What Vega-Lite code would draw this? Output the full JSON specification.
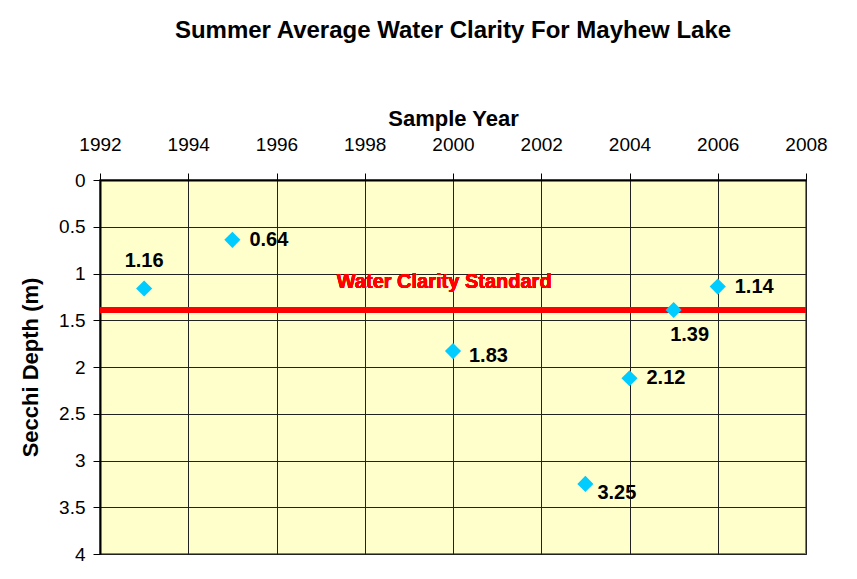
{
  "$schema": "https://vega.github.io/schema/vega-lite/v6.json",
  "autosize": {"type": "none"},
  "width": 706,
  "height": 374,
  "padding": {"left": 100, "top": 180, "right": 51, "bottom": 25},
  "background": "white",
  "config": {
    "font": "Liberation Sans",
    "view": {"fill": "#FFFFCC", "stroke": "#808080", "strokeWidth": 2}
  },
  "title": {
    "text": "Summer Average Water Clarity For Mayhew Lake",
    "font": "Liberation Sans",
    "fontSize": 24,
    "fontWeight": "bold",
    "color": "black",
    "anchor": "middle",
    "offset": 64
  },
  "data": {
    "values": [
      {"year": 1993, "depth": 1.16},
      {"year": 1995, "depth": 0.64},
      {"year": 2000, "depth": 1.83},
      {"year": 2003, "depth": 3.25},
      {"year": 2004, "depth": 2.12},
      {"year": 2005, "depth": 1.39},
      {"year": 2006, "depth": 1.14}
    ]
  },
  "encoding": {
    "x": {
      "field": "year",
      "type": "quantitative",
      "scale": {"domain": [1992, 2008], "nice": false, "zero": false},
      "axis": {
        "orient": "top",
        "title": "Sample Year",
        "titleFont": "Liberation Sans",
        "titleFontSize": 22,
        "titleFontWeight": "bold",
        "titleColor": "black",
        "titlePadding": 5,
        "values": [1992, 1994, 1996, 1998, 2000, 2002, 2004, 2006, 2008],
        "format": "d",
        "labelFont": "Liberation Sans",
        "labelFontSize": 19,
        "labelColor": "black",
        "labelPadding": 19,
        "labelFlush": false,
        "tickSize": 7,
        "tickColor": "black",
        "domainColor": "black",
        "domainWidth": 2,
        "gridColor": "#222222",
        "gridWidth": 1,
        "gridOpacity": 1
      }
    },
    "y": {
      "field": "depth",
      "type": "quantitative",
      "scale": {"domain": [0, 4], "reverse": true, "nice": false},
      "axis": {
        "title": "Secchi Depth (m)",
        "titleFont": "Liberation Sans",
        "titleFontSize": 22,
        "titleFontWeight": "bold",
        "titleColor": "black",
        "titlePadding": 16,
        "values": [0, 0.5, 1, 1.5, 2, 2.5, 3, 3.5, 4],
        "format": "~g",
        "labelFont": "Liberation Sans",
        "labelFontSize": 19,
        "labelColor": "black",
        "labelPadding": 8,
        "labelFlush": false,
        "tickSize": 7,
        "tickColor": "black",
        "domainColor": "black",
        "domainWidth": 2,
        "gridColor": "#222222",
        "gridWidth": 1,
        "gridOpacity": 1
      }
    }
  },
  "layer": [
    {
      "mark": {"type": "rule", "color": "#FF0000", "strokeWidth": 5},
      "encoding": {"y": {"datum": 1.39}, "x": null}
    },
    {
      "mark": {"type": "text", "color": "#FF0000", "fontSize": 20, "fontWeight": "bold", "font": "Liberation Sans", "align": "center", "baseline": "middle"},
      "encoding": {"x": {"datum": 1999.8}, "y": {"datum": 1.09}, "text": {"value": "Water Clarity Standard"}}
    },
    {
      "mark": {"type": "point", "shape": "diamond", "filled": true, "color": "#00CCFF", "size": 260, "opacity": 1}
    },
    {
      "transform": [{"filter": "datum.year == 1993"}],
      "mark": {"type": "text", "fontSize": 20, "fontWeight": "bold", "font": "Liberation Sans", "color": "black", "align": "center", "baseline": "middle", "dy": -27},
      "encoding": {"text": {"field": "depth", "type": "quantitative", "format": ".2f"}}
    },
    {
      "transform": [{"filter": "datum.year == 1995 || datum.year == 2004 || datum.year == 2006"}],
      "mark": {"type": "text", "fontSize": 20, "fontWeight": "bold", "font": "Liberation Sans", "color": "black", "align": "left", "baseline": "middle", "dx": 17},
      "encoding": {"text": {"field": "depth", "type": "quantitative", "format": ".2f"}}
    },
    {
      "transform": [{"filter": "datum.year == 2000"}],
      "mark": {"type": "text", "fontSize": 20, "fontWeight": "bold", "font": "Liberation Sans", "color": "black", "align": "left", "baseline": "middle", "dx": 16, "dy": 5},
      "encoding": {"text": {"field": "depth", "type": "quantitative", "format": ".2f"}}
    },
    {
      "transform": [{"filter": "datum.year == 2003"}],
      "mark": {"type": "text", "fontSize": 20, "fontWeight": "bold", "font": "Liberation Sans", "color": "black", "align": "left", "baseline": "middle", "dx": 12, "dy": 9},
      "encoding": {"text": {"field": "depth", "type": "quantitative", "format": ".2f"}}
    },
    {
      "transform": [{"filter": "datum.year == 2005"}],
      "mark": {"type": "text", "fontSize": 20, "fontWeight": "bold", "font": "Liberation Sans", "color": "black", "align": "center", "baseline": "middle", "dx": 16, "dy": 25},
      "encoding": {"text": {"field": "depth", "type": "quantitative", "format": ".2f"}}
    }
  ]
}
